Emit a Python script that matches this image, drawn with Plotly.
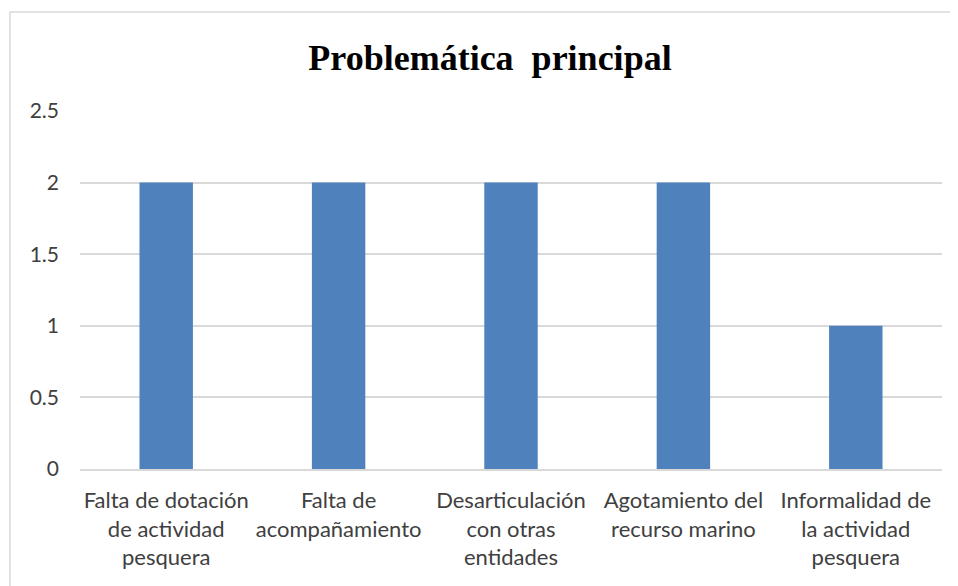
import plotly.graph_objects as go

categories = [
    "Falta de dotación de actividad pesquera",
    "Falta de acompañamiento",
    "Desarticulación con otras entidades",
    "Agotamiento del recurso marino",
    "Informalidad de la actividad pesquera",
]
tick_labels = [
    "Falta de dotación<br>de actividad<br>pesquera",
    "Falta de<br>acompañamiento",
    "Desarticulación<br>con otras<br>entidades",
    "Agotamiento del<br>recurso marino",
    "Informalidad de<br>la actividad<br>pesquera",
]
values = [2, 2, 2, 2, 1]

OFF = 8  # page body margin
W, H = 958 - OFF, 586 - OFF
L, R, T, B = 80 - OFF, 942 - OFF, 111 - OFF, 469 - OFF

fig = go.Figure(go.Bar(
    x=categories, y=values,
    marker=dict(color="#4F81BD", line=dict(color="#4F81BD", width=0)),
    width=0.31,
))

pw, ph = R - L, B - T
def px(x): return (x - OFF - L) / pw
def py(y): return (B - (y - OFF)) / ph

fig.update_layout(
    width=W, height=H,
    margin=dict(l=L, r=W - R, t=T, b=H - B),
    paper_bgcolor="white", plot_bgcolor="white",
    showlegend=False,
    title=dict(text="<b>Problemática  principal</b>", x=(490 - OFF) / W,
               xanchor="center", y=1 - (57 - OFF) / H, yanchor="middle",
               font=dict(family="Liberation Serif", size=36, color="black")),
    font=dict(family="Lato", size=22, color="#404040"),
    shapes=[dict(type="rect", xref="paper", yref="paper",
                 x0=px(10), x1=px(966), y0=py(600), y1=py(12),
                 line=dict(color="#D9D9D9", width=1.5), layer="below")],
)
fig.update_xaxes(
    tickvals=categories, ticktext=tick_labels,
    showgrid=False, showline=True, linecolor="#D9D9D9", linewidth=1.5,
    ticks="", tickfont=dict(family="Lato", size=22, color="#404040"),
    ticklabelstandoff=11,
)
fig.update_yaxes(
    range=[0, 2.5], dtick=0.5, showgrid=True, gridcolor="#D9D9D9", gridwidth=1.5,
    zeroline=False, showline=False, ticks="",
    tickfont=dict(family="Lato", size=21, color="#404040"),
    ticklabelstandoff=20,
)

fig.write_html("out.html")
